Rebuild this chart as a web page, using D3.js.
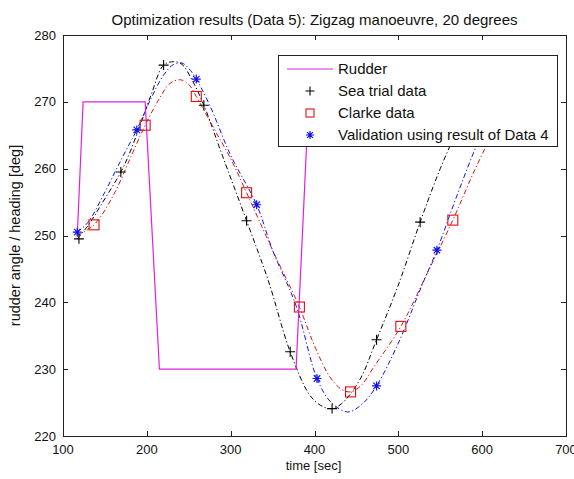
<!DOCTYPE html>
<html>
<head>
<meta charset="utf-8">
<script src="https://cdn.jsdelivr.net/npm/d3@7"></script>
<style>
  body { margin: 0; background: #fff; }
  text { font-family: "Liberation Sans", Arial, sans-serif; fill: #111; }
</style>
</head>
<body>
<div id="vis"></div>
<script>
var width = 574,
    height = 479;

// rudder angle (plotted around 250 deg)
var rudderT = [117, 124, 198, 215, 378, 393, 480];
var rudderH = [250, 270, 270, 230, 230, 270, 270];

// sea trial heading
var seaT = [117, 130, 145, 169, 180, 192, 205, 220, 232, 242, 255, 268, 290, 319, 345, 371, 395, 410, 421, 432, 454, 474, 500, 526, 550, 575, 600];
var seaH = [249.5, 251.5, 254.5, 259.5, 262.5, 266.5, 271, 275.5, 276, 275.6, 273, 269.5, 262, 252.2, 243.2, 232.6, 226, 224.4, 224.1, 224.8, 228.4, 234.4, 242.6, 252, 260, 267, 273];
var seaMarkT = [119, 169, 220, 268, 319, 371, 421, 474, 526];
var seaMarkH = [249.5, 259.5, 275.5, 269.5, 252.2, 232.6, 224.1, 234.4, 252];

// Clarke model heading
var clarkeT = [117, 137, 160, 180, 198, 215, 228, 240, 250, 259, 280, 300, 319, 350, 382, 400, 418, 432, 443, 456, 470, 503, 535, 565, 590, 615];
var clarkeH = [250, 251.6, 256, 261.5, 266.5, 270.5, 272.8, 273.3, 272.6, 270.8, 266, 261.5, 256.4, 247.8, 239.3, 233.5, 228.9, 227, 226.6, 227.6, 230.2, 236.4, 244.5, 252.3, 259.5, 266];
var clarkeMarkT = [137, 198, 259, 319, 382, 443, 503, 565];
var clarkeMarkH = [251.6, 266.5, 270.8, 256.4, 239.3, 226.6, 236.4, 252.3];

// validation using Data 4 result
var valT = [117, 130, 150, 170, 188, 205, 220, 232, 242, 250, 259, 275, 300, 331, 350, 378, 403, 420, 440, 458, 474, 500, 529, 546, 570, 595, 620];
var valH = [250.5, 252, 256.5, 261.5, 265.8, 270.5, 274, 275.6, 275.8, 275, 273.4, 269.5, 262, 254.6, 247.8, 239.5, 228.6, 225, 223.6, 224.9, 227.5, 233.9, 242.8, 247.8, 256, 264, 271];
var valMarkT = [117, 188, 259, 331, 403, 474, 546];
var valMarkH = [250.5, 265.8, 273.4, 254.6, 228.6, 227.5, 247.8];

var xTicks = [100, 200, 300, 400, 500, 600, 700];
var yTicks = [220, 230, 240, 250, 260, 270, 280];

var margin = {top: 35, right: 8, bottom: 43, left: 63};

var x = d3.scaleLinear().domain([100, 700]).range([margin.left, width - margin.right]);
var y = d3.scaleLinear().domain([220, 280]).range([height - margin.bottom, margin.top]);

var svg = d3.select("#vis").append("svg")
    .attr("width", width)
    .attr("height", height);

function zip(ts, hs) {
    return ts.map(function (t, i) { return [t, hs[i]]; });
}

var line = d3.line()
    .x(function (d) { return x(d[0]); })
    .y(function (d) { return y(d[1]); });

var smooth = d3.line()
    .curve(d3.curveCatmullRom)
    .x(function (d) { return x(d[0]); })
    .y(function (d) { return y(d[1]); });

svg.append("clipPath").attr("id", "plotclip")
    .append("rect")
    .attr("x", margin.left).attr("y", margin.top)
    .attr("width", width - margin.left - margin.right)
    .attr("height", height - margin.top - margin.bottom);

var plot = svg.append("g").attr("clip-path", "url(#plotclip)");

var dash = "5,2.5,1.2,2.5";

var series = [
    {t: seaT, h: seaH, color: "#000"},
    {t: clarkeT, h: clarkeH, color: "#e01010"},
    {t: valT, h: valH, color: "#1010ee"}
];

series.forEach(function (s) {
    plot.append("path")
        .datum(zip(s.t, s.h))
        .attr("fill", "none")
        .attr("stroke", s.color)
        .attr("stroke-width", 1)
        .attr("stroke-dasharray", dash)
        .attr("d", smooth);
});

plot.append("path")
    .datum(zip(rudderT, rudderH))
    .attr("fill", "none")
    .attr("stroke", "#e020e0")
    .attr("stroke-width", 1.2)
    .attr("d", line);

function plus(g, cx, cy, c, r) {
    r = r || 5;
    g.append("path")
        .attr("d", "M" + (cx - r) + "," + cy + "H" + (cx + r) + "M" + cx + "," + (cy - r) + "V" + (cy + r))
        .attr("stroke", c).attr("stroke-width", 1.1).attr("fill", "none");
}
function square(g, cx, cy, c, r) {
    r = r || 5;
    g.append("rect")
        .attr("x", cx - r).attr("y", cy - r).attr("width", 2 * r).attr("height", 2 * r)
        .attr("stroke", c).attr("stroke-width", 1.1).attr("fill", "none");
}
function star(g, cx, cy, c, r) {
    r = r || 4.5;
    var k = r * 0.72;
    g.append("path")
        .attr("d", "M" + (cx - r) + "," + cy + "H" + (cx + r) +
            "M" + cx + "," + (cy - r) + "V" + (cy + r) +
            "M" + (cx - k) + "," + (cy - k) + "L" + (cx + k) + "," + (cy + k) +
            "M" + (cx - k) + "," + (cy + k) + "L" + (cx + k) + "," + (cy - k))
        .attr("stroke", c).attr("stroke-width", 1.2).attr("fill", "none");
}

var marks = plot.append("g");
zip(seaMarkT, seaMarkH).forEach(function (d) { plus(marks, x(d[0]), y(d[1]), "#000"); });
zip(clarkeMarkT, clarkeMarkH).forEach(function (d) { square(marks, x(d[0]), y(d[1]), "#e01010"); });
zip(valMarkT, valMarkH).forEach(function (d) { star(marks, x(d[0]), y(d[1]), "#1010ee"); });

// axes box with inward ticks
var x0 = margin.left, x1 = width - margin.right, y0 = margin.top, y1 = height - margin.bottom;
var axes = svg.append("g").attr("stroke", "#222").attr("stroke-width", 1);
axes.append("rect")
    .attr("x", x0 + 0.5).attr("y", y0 + 0.5)
    .attr("width", x1 - x0).attr("height", y1 - y0)
    .attr("fill", "none");

xTicks.forEach(function (v) {
    var px = Math.round(x(v)) + 0.5;
    axes.append("line").attr("x1", px).attr("x2", px).attr("y1", y1).attr("y2", y1 - 5);
    axes.append("line").attr("x1", px).attr("x2", px).attr("y1", y0).attr("y2", y0 + 5);
});
yTicks.forEach(function (v) {
    var py = Math.round(y(v)) + 0.5;
    axes.append("line").attr("x1", x0).attr("x2", x0 + 5).attr("y1", py).attr("y2", py);
    axes.append("line").attr("x1", x1).attr("x2", x1 - 5).attr("y1", py).attr("y2", py);
});

svg.append("g").selectAll("text")
    .data(xTicks)
    .join("text")
    .attr("x", function (d) { return x(d); })
    .attr("y", y1 + 18)
    .attr("text-anchor", "middle")
    .attr("font-size", 13)
    .text(function (d) { return d; });

svg.append("g").selectAll("text")
    .data(yTicks)
    .join("text")
    .attr("x", x0 - 7)
    .attr("y", function (d) { return y(d) + 4.5; })
    .attr("text-anchor", "end")
    .attr("font-size", 13)
    .text(function (d) { return d; });

svg.append("text")
    .attr("x", (x0 + x1) / 2)
    .attr("y", 25)
    .attr("text-anchor", "middle")
    .attr("font-size", 15)
    .text("Optimization results (Data 5): Zigzag manoeuvre, 20 degrees");

svg.append("text")
    .attr("x", (x0 + x1) / 2 - 1)
    .attr("y", 470)
    .attr("text-anchor", "middle")
    .attr("font-size", 13)
    .text("time [sec]");

svg.append("text")
    .attr("transform", "translate(20," + ((y0 + y1) / 2) + ") rotate(-90)")
    .attr("text-anchor", "middle")
    .attr("font-size", 14.5)
    .text("rudder angle / heading [deg]");

// legend
var legend = svg.append("g");
legend.append("rect")
    .attr("x", 278.5).attr("y", 55.5).attr("width", 279).attr("height", 91)
    .attr("fill", "#fff").attr("stroke", "#222");

var legendItems = ["Rudder", "Sea trial data", "Clarke data", "Validation using result of Data 4"];
var legendY = [69, 91, 113, 135];

legend.append("line")
    .attr("x1", 287).attr("x2", 333).attr("y1", legendY[0]).attr("y2", legendY[0])
    .attr("stroke", "#e020e0").attr("stroke-width", 1.2);
plus(legend, 310, legendY[1], "#000", 4.5);
square(legend, 310, legendY[2], "#e01010", 4);
star(legend, 310, legendY[3], "#1010ee", 4);

legend.selectAll("text.item")
    .data(legendItems)
    .join("text")
    .attr("class", "item")
    .attr("x", 338)
    .attr("y", function (d, i) { return legendY[i] + 5; })
    .attr("font-size", 15)
    .text(function (d) { return d; });
</script>
</body>
</html>
